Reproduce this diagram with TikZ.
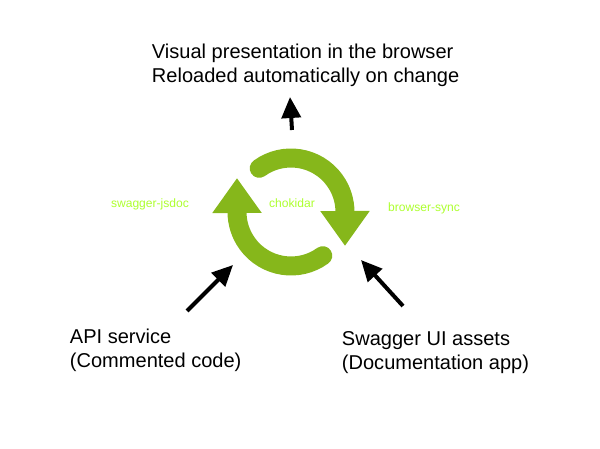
\documentclass[tikz,border=0pt]{standalone}
\usepackage{fontspec}
\setmainfont{Liberation Sans}
\usetikzlibrary{arrows.meta}
\definecolor{cycle}{HTML}{86B71B}
\definecolor{tool} {HTML}{ADFF2F}
\tikzset{
  cyclearrow/.style={-{Triangle[length=0.875cm, width=1.175cm]}, cycle, line width=0.475cm, line cap=round},
  feedarrow/.style={-{Triangle[length=0.525cm, width=0.475cm]}, black, line width=0.1cm},
  caption/.style={anchor=west, align=left, font=\fontsize{14.25pt}{17pt}\selectfont},
  toollabel/.style={text=tool, font=\fontsize{8.6pt}{10pt}\selectfont, inner sep=0pt}
}
\begin{document}
\begin{tikzpicture}
      \useasboundingbox (0,0) rectangle (15,11.225);
      % the two halves of the loop
      \coordinate (a) at (6.481,7.017);
      \coordinate (b) at (8.069,4.833);
      \coordinate (atip) at (8.625,5.075);
      \coordinate (btip) at (5.925,6.775);
      \draw[cyclearrow] (a) arc[start angle=126, end angle=0, radius=1.35] -- (atip);
      \draw[cyclearrow] (b) arc[start angle=-54, end angle=-180, radius=1.35] -- (btip);
      \node[toollabel] (jsdoc) at (3.75,6.125) {swagger-jsdoc};
      \node[toollabel] (chokidar) at (7.3,6.15) {chokidar};
      \node[toollabel] (sync) at (10.6,6.025) {browser-sync};
      \node[caption] (browser) at (3.675,9.6) {Visual presentation in the browser\\Reloaded automatically on change};
      \node[caption] (api) at (1.625,2.475) {API service\\(Commented code)};
      \node[caption] (assets) at (8.425,2.4) {Swagger UI assets\\(Documentation app)};
      % arrows
      \coordinate (outstart) at (7.3,7.975);
      \coordinate (outend) at (7.25,8.8);
      \coordinate (apistart) at (4.675,3.45);
      \coordinate (apiend) at (5.825,4.6);
      \coordinate (assetsstart) at (10.075,3.575);
      \coordinate (assetsend) at (9.025,4.725);
      \draw[feedarrow] (outstart) -- (outend);
      \draw[feedarrow] (apistart) -- (apiend);
      \draw[feedarrow] (assetsstart) -- (assetsend);
\end{tikzpicture}
\end{document}
